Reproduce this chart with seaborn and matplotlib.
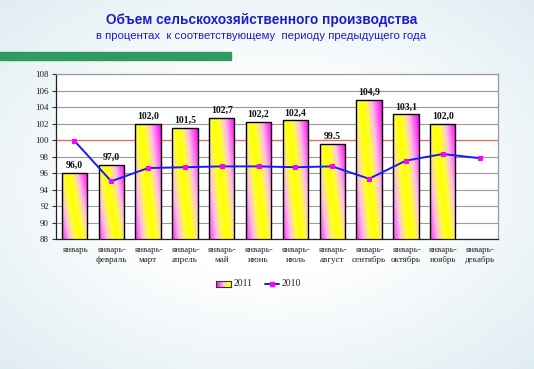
import matplotlib
matplotlib.use("Agg")
import matplotlib.pyplot as plt
import numpy as np
import pandas as pd
import seaborn as sns
from matplotlib.colors import LinearSegmentedColormap
from matplotlib.lines import Line2D

months = [
    "январь", "январь-\nфевраль", "январь-\nмарт", "январь-\nапрель",
    "январь-\nмай", "январь-\nиюнь", "январь-\nиюль", "январь-\nавгуст",
    "январь-\nсентябрь", "январь-\nоктябрь", "январь-\nноябрь", "январь-\nдекабрь",
]
values_2011 = [96.0, 97.0, 102.0, 101.5, 102.7, 102.2, 102.4, 99.5, 104.9, 103.1, 102.0]
labels_2011 = ["96,0", "97,0", "102,0", "101,5", "102,7", "102,2", "102,4", "99.5", "104,9", "103,1", "102,0"]
values_2010 = [99.9, 95.0, 96.6, 96.7, 96.8, 96.8, 96.7, 96.8, 95.3, 97.5, 98.3, 97.8]
y_ticks = list(range(88, 110, 2))

serif = "Liberation Serif"
sans = "Liberation Sans"

sns.set_style("white")
plt.rcParams["font.family"] = [serif, "DejaVu Sans"]

bar_cmap = LinearSegmentedColormap.from_list(
    "bar", [(0.0, "#ffff00"), (0.2, "#ffff30"), (0.5, "#ffc0e8"), (0.8, "#ff50f0"), (1.0, "#ff00ff")]
)

fig = plt.figure(figsize=(5.34, 3.69), dpi=100)

# page background: pale blue toward the corners, white in the middle
bg = fig.add_axes([0, 0, 1, 1], zorder=-10)
gx, gy = np.meshgrid(np.linspace(-1, 1, 200), np.linspace(-1, 1, 140))
r = np.clip((np.sqrt(gx ** 2 + gy ** 2) - 0.5) / 0.9, 0, 1)
base = np.array([1.0, 1.0, 1.0])
edge = np.array([0.88, 0.93, 0.95])
img = base[None, None, :] * (1 - r[..., None]) + edge[None, None, :] * r[..., None]
bg.imshow(img, aspect="auto", extent=(0, 1, 0, 1))
bg.axis("off")

# green stripe under the title
fig.patches.append(plt.Rectangle((0, 1 - 60 / 369), 231 / 534, 8 / 369,
                                 transform=fig.transFigure, color="#2f9b63", zorder=5))

fig.text(0.489, 1 - 20 / 369, "Объем сельскохозяйственного производства", ha="center", va="center",
         fontsize=9.8, fontweight="bold", color="#1c1ccc", family=sans)
fig.text(0.489, 1 - 36 / 369, "в процентах  к соответствующему  периоду предыдущего года", ha="center",
         va="center", fontsize=8.2, color="#1c1ccc", family=sans)

ax = fig.add_axes([56 / 534, 130 / 369, 442 / 534, 165 / 369])
ax.set_facecolor("white")

df = pd.DataFrame({"month": months[: len(values_2011)], "value": values_2011})
sns.barplot(data=df, x="month", y="value", order=months, width=0.69, color="white",
            edgecolor="black", linewidth=1.0, ax=ax)

ax.set_ylim(88, 108)
ax.set_xlim(-0.5, len(months) - 0.5)

# diagonal yellow/magenta fill for each bar
h, w = 120, 30
yy, xx = np.mgrid[0:h, 0:w]
d = xx / (w - 1) - 0.2 - 0.5 * yy / (h - 1)
grad = np.clip(np.abs(d) / 0.8, 0, 1)
for patch, lab in zip(ax.patches, labels_2011):
    x0 = patch.get_x()
    x1 = x0 + patch.get_width()
    top = patch.get_height()
    patch.set_facecolor("none")
    patch.set_zorder(2.5)
    im = ax.imshow(grad, cmap=bar_cmap, vmin=0, vmax=1, extent=(x0, x1, 88, top),
                   aspect="auto", origin="upper", zorder=2, interpolation="bilinear")
    im.set_clip_path(patch)
    ax.text((x0 + x1) / 2, top + 0.35, lab, ha="center", va="bottom", fontsize=7,
            fontweight="bold", color="#111111")

sns.lineplot(x=np.arange(len(months)), y=values_2010, color="#1a1aff", linewidth=1.4,
             marker="s", markersize=3.5, markerfacecolor="#ff00ff", markeredgecolor="#ff00ff",
             ax=ax, zorder=4)

ax.set_ylim(88, 108)
ax.set_xlim(-0.5, len(months) - 0.5)
ax.set_yticks(y_ticks)
ax.set_yticklabels([str(t) for t in y_ticks], fontsize=6.5, color="#222222")
ax.set_xticks(range(len(months)))
ax.set_xticklabels(months, fontsize=6.5, color="#222222", linespacing=1.3)
ax.set_xticks(np.arange(len(months) + 1) - 0.5, minor=True)
ax.tick_params(axis="x", which="major", length=0, pad=5)
ax.tick_params(axis="x", which="minor", length=3, width=0.8, color="#333333", direction="out")
ax.tick_params(axis="y", length=3, width=0.8, color="#333333", direction="out", pad=2, left=True)
ax.set_xlabel("")
ax.set_ylabel("")

ax.set_axisbelow(True)
ax.yaxis.grid(True, color="#9a9a9a", linewidth=0.8)
ax.axhline(100, color="#e86a6a", linewidth=0.9, zorder=1)
for side in ("top", "right"):
    ax.spines[side].set_color("#9a9a9a")
    ax.spines[side].set_linewidth(0.9)
for side in ("left", "bottom"):
    ax.spines[side].set_color("#222222")
    ax.spines[side].set_linewidth(0.9)
    ax.spines[side].set_visible(True)

# legend drawn by hand so the swatch can carry the gradient
sw = fig.add_axes([216 / 534, 1 - 287 / 369, 15 / 534, 6 / 369])
sw.imshow(np.linspace(1, 0, 30)[None, :] * np.ones((6, 1)), cmap=bar_cmap, aspect="auto")
sw.set_xticks([])
sw.set_yticks([])
for s in sw.spines.values():
    s.set_color("#333333")
    s.set_linewidth(0.8)
fig.text(234 / 534, 1 - 284 / 369, "2011", fontsize=7, va="center", color="#222222")
fig.lines.append(Line2D([265 / 534, 279 / 534], [1 - 284 / 369] * 2, transform=fig.transFigure,
                        color="#1a1aff", linewidth=1.4))
fig.lines.append(Line2D([272 / 534], [1 - 284 / 369], transform=fig.transFigure, marker="s",
                        markersize=3.5, color="#ff00ff", linestyle="none"))
fig.text(282 / 534, 1 - 284 / 369, "2010", fontsize=7, va="center", color="#222222")

fig.savefig("out.png", dpi=100)
